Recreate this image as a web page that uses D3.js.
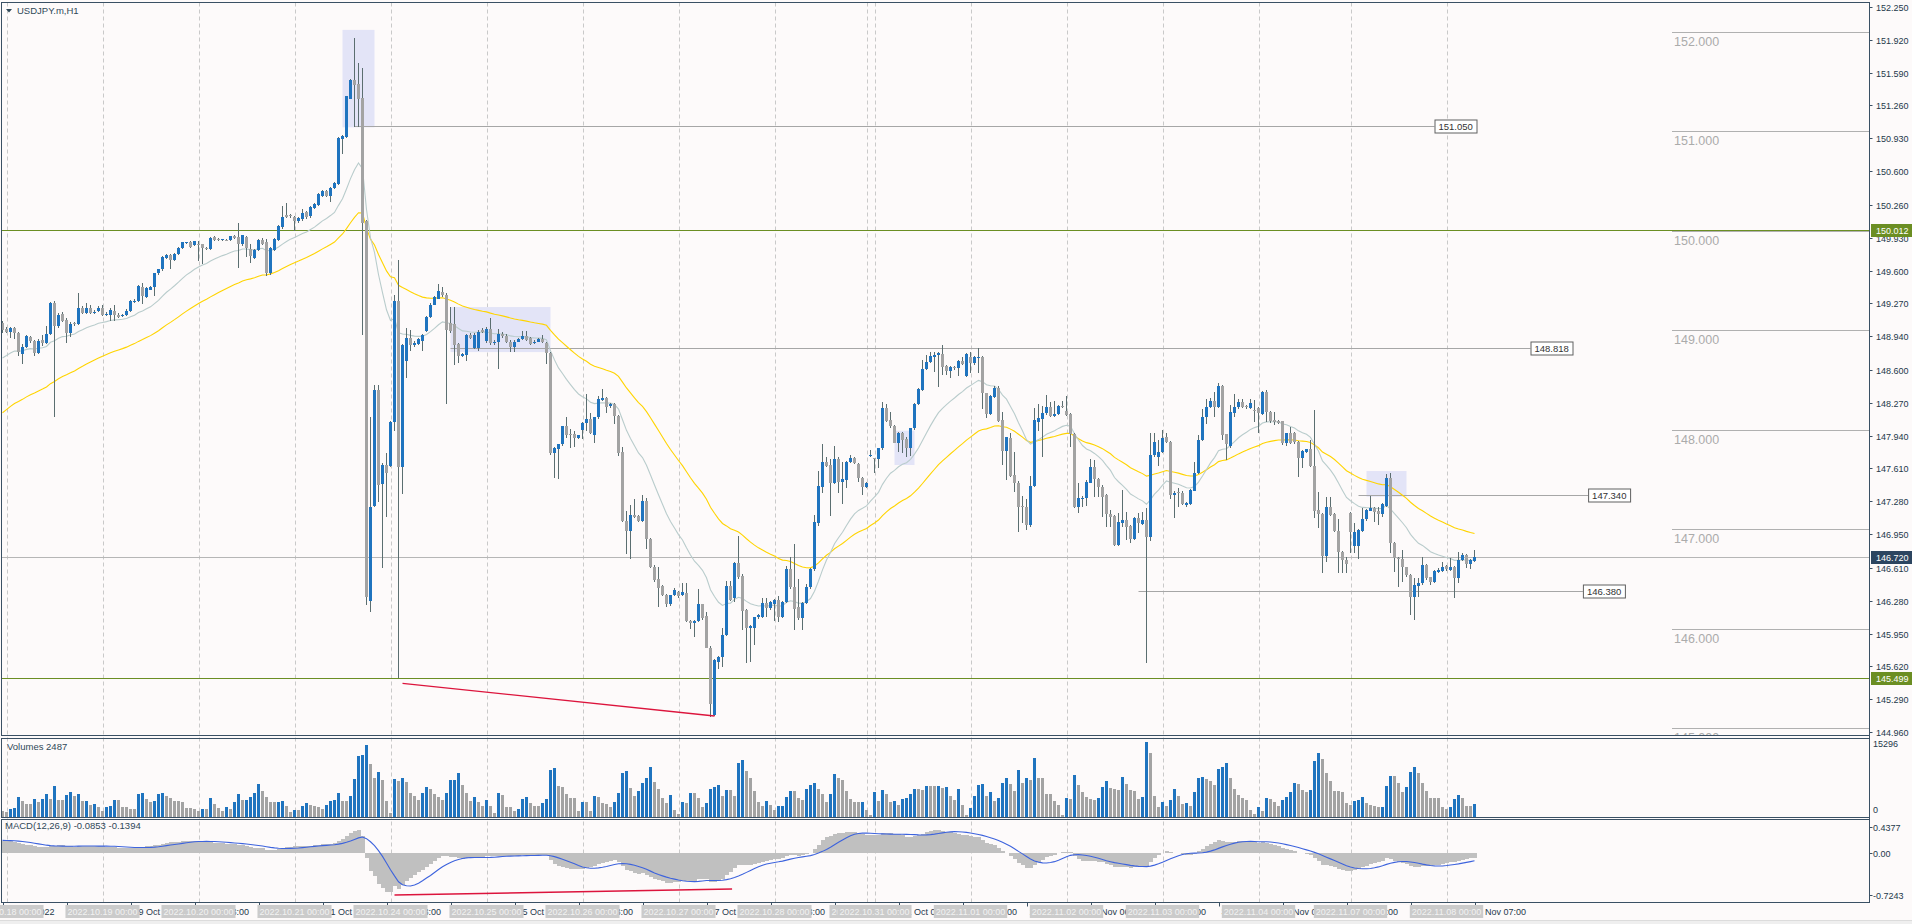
<!DOCTYPE html>
<html><head><meta charset="utf-8">
<script src="https://cdn.jsdelivr.net/npm/d3@7"></script>
<style>
html,body{margin:0;padding:0;background:#fdfafa;overflow:hidden}
svg{display:block}
text{font-family:"Liberation Sans",Arial,sans-serif}
</style></head><body>
<svg id="c" width="1912" height="924"></svg>
<script>
// ---------------- DATA ----------------
const chartTitle = "USDJPY.m,H1";
const volumeTitle = "Volumes 2487";
const macdTitle = "MACD(12,26,9) -0.0853 -0.1394";

const opens = [
149.074,149.011,148.978,149.024,148.970,148.762,148.833,148.928,148.895,148.775,
148.899,148.874,148.958,149.273,149.040,149.165,149.107,148.970,149.070,149.066,
149.228,149.170,149.220,149.170,149.190,149.228,149.157,149.149,149.198,149.157,
149.140,149.149,149.190,149.280,149.290,149.430,149.330,149.406,149.430,149.572,
149.614,149.726,149.759,149.710,149.768,149.830,149.880,149.888,149.860,149.870,
149.863,149.830,149.820,149.940,149.920,149.905,149.910,149.905,149.946,149.940,
149.863,149.940,149.818,149.731,149.808,149.905,149.885,149.573,149.808,149.910,
150.033,150.161,150.161,150.141,150.095,150.115,150.186,150.146,150.227,150.258,
150.350,150.396,150.350,150.432,150.473,150.923,150.943,151.327,151.516,151.480,
151.337,150.100,146.281,147.237,148.402,147.457,147.646,147.630,148.080,149.292,
147.620,148.694,148.924,148.847,148.862,148.888,148.990,149.128,149.256,149.317,
149.384,149.358,149.077,149.061,148.857,148.745,148.755,148.949,148.821,148.821,
149.000,148.888,149.016,148.868,148.886,148.963,148.945,148.886,148.833,148.886,
148.910,148.938,148.921,148.868,148.886,148.910,148.868,148.770,147.763,147.809,
147.851,148.033,147.956,147.956,147.921,147.998,148.068,148.103,147.949,148.124,
148.300,148.314,148.237,148.261,148.138,147.773,147.079,146.981,147.142,147.131,
147.086,147.282,146.896,146.623,146.500,146.430,146.342,146.244,146.335,146.370,
146.342,146.356,146.079,146.061,146.079,146.244,146.124,145.809,145.132,145.668,
145.710,145.938,146.430,146.307,146.658,146.529,146.187,146.003,146.003,146.113,
146.120,146.254,146.204,146.247,146.288,146.120,146.271,146.596,146.415,146.214,
146.103,146.261,146.415,146.596,147.065,147.427,147.672,147.645,147.467,147.702,
147.477,147.494,147.672,147.712,147.655,147.511,147.420,147.740,147.715,147.702,
147.812,148.215,148.097,148.040,147.869,147.970,147.903,147.812,148.014,148.258,
148.399,148.607,148.684,148.734,148.751,148.761,148.640,148.593,148.634,148.617,
148.691,148.540,148.734,148.674,148.730,148.727,148.366,148.158,148.332,148.416,
148.097,147.789,147.913,147.544,147.467,147.233,147.226,147.042,147.434,148.081,
148.107,148.164,148.225,148.141,148.158,148.238,148.191,148.158,147.957,147.219,
147.305,147.310,147.467,147.621,147.501,147.420,147.343,147.152,147.132,146.841,
147.065,147.092,147.031,146.898,147.109,147.052,147.092,146.924,147.745,147.722,
147.779,147.923,147.880,147.343,147.377,147.367,147.243,147.253,147.387,147.561,
147.896,148.124,148.225,148.292,148.225,148.439,147.957,147.835,148.170,148.224,
148.281,148.237,148.221,148.197,148.214,148.157,148.382,148.180,148.097,148.090,
148.087,147.862,147.969,147.969,147.879,147.711,147.778,147.802,147.634,147.192,
147.151,146.729,147.225,147.151,146.984,146.773,146.689,147.165,146.830,146.830,
146.984,147.098,147.185,147.208,147.185,147.151,147.232,147.510,146.857,146.712,
146.696,146.615,146.538,146.314,146.431,146.454,146.639,146.515,146.471,146.572,
146.582,146.629,146.588,146.622,146.505,146.689,146.739,146.645,146.679];

const highs = [
149.095,149.032,149.032,149.032,148.982,148.866,148.949,148.941,148.903,148.910,
148.949,149.040,149.285,149.290,149.170,149.180,149.120,149.080,149.080,149.377,
149.240,149.273,149.250,149.200,149.240,149.250,149.180,149.220,149.253,149.170,
149.160,149.210,149.300,149.310,149.450,149.477,149.430,149.440,149.580,149.620,
149.750,149.770,149.770,149.780,149.840,149.890,149.890,149.900,149.900,149.900,
149.870,149.835,149.935,149.950,149.930,149.920,149.920,149.950,149.960,150.083,
149.960,149.950,149.869,149.820,149.920,149.931,149.921,149.840,149.930,150.060,
150.253,150.279,150.170,150.150,150.135,150.217,150.200,150.253,150.280,150.380,
150.410,150.410,150.440,150.490,150.943,150.960,151.360,151.530,151.940,151.684,
151.633,150.110,148.131,148.450,148.448,147.660,147.763,148.090,149.358,149.706,
148.860,149.026,149.000,148.890,148.920,148.960,149.140,149.270,149.340,149.460,
149.435,149.370,149.230,149.230,148.870,148.770,148.960,148.970,148.970,149.000,
149.020,149.030,149.120,148.900,149.016,148.980,148.960,148.900,148.900,148.920,
148.991,148.991,148.930,148.900,148.920,148.956,148.880,148.780,147.830,147.860,
148.040,148.131,148.009,147.990,147.950,148.080,148.359,148.166,148.130,148.335,
148.405,148.330,148.270,148.270,148.150,147.823,147.184,147.247,147.307,147.140,
147.342,147.317,146.910,146.640,146.616,146.440,146.350,146.340,146.405,146.380,
146.454,146.454,146.090,146.090,146.395,146.250,146.166,145.820,145.690,145.720,
146.009,146.482,146.482,146.670,146.928,146.550,146.200,146.040,146.120,146.150,
146.304,146.304,146.280,146.300,146.328,146.280,146.629,146.723,146.851,146.495,
146.270,146.448,146.610,147.142,147.588,147.856,147.729,147.702,147.839,147.722,
147.678,147.680,147.745,147.722,147.660,147.520,147.470,147.796,147.720,147.820,
148.282,148.258,148.181,148.050,147.980,147.980,147.930,148.020,148.270,148.420,
148.701,148.751,148.784,148.784,148.784,148.852,148.650,148.640,148.640,148.700,
148.734,148.770,148.784,148.740,148.818,148.740,148.370,148.350,148.439,148.439,
148.181,147.930,147.970,147.779,147.480,147.333,147.300,147.534,148.215,148.258,
148.238,148.349,148.282,148.292,148.248,148.288,148.339,148.170,147.970,147.461,
147.330,147.490,147.702,147.695,147.510,147.444,147.350,147.192,147.140,147.159,
147.394,147.176,147.040,147.125,147.159,147.176,147.209,147.963,147.963,147.896,
147.997,147.963,147.890,147.380,147.410,147.380,147.270,147.400,147.678,147.947,
148.205,148.305,148.315,148.382,148.466,148.450,147.960,148.248,148.358,148.304,
148.304,148.250,148.304,148.298,148.231,148.392,148.398,148.190,148.180,148.100,
148.090,147.970,148.030,147.980,147.890,147.800,147.810,147.896,148.197,147.376,
147.160,147.326,147.326,147.160,147.098,146.780,146.722,147.175,147.058,147.000,
147.208,147.200,147.332,147.220,147.225,147.260,147.554,147.560,146.870,146.720,
146.790,146.620,146.550,146.505,146.505,146.722,146.650,146.520,146.588,146.605,
146.672,146.639,146.706,146.630,146.773,146.756,146.750,146.700,146.790];

const lows = [
148.970,148.970,148.920,148.908,148.741,148.658,148.825,148.870,148.741,148.760,
148.845,148.866,148.950,148.127,149.020,149.080,148.874,148.928,149.040,149.053,
149.160,149.160,149.160,149.160,149.180,149.140,149.140,149.095,149.095,149.120,
149.130,149.140,149.180,149.270,149.280,149.260,149.320,149.400,149.344,149.560,
149.600,149.720,149.614,149.700,149.760,149.820,149.870,149.830,149.850,149.700,
149.664,149.810,149.810,149.900,149.900,149.900,149.900,149.900,149.920,149.622,
149.850,149.739,149.675,149.720,149.800,149.860,149.547,149.560,149.800,149.900,
150.020,150.125,150.130,149.997,150.080,150.100,150.120,150.130,150.220,150.250,
150.340,150.340,150.289,150.420,150.460,150.774,150.930,151.320,151.045,151.045,
148.949,146.240,146.163,147.220,147.272,146.608,147.119,147.620,147.988,145.498,
147.354,148.515,148.796,148.830,148.850,148.786,148.980,149.120,149.250,149.310,
149.333,148.259,148.975,148.653,148.668,148.730,148.694,148.910,148.810,148.796,
148.970,148.870,148.850,148.850,148.612,148.920,148.870,148.780,148.780,148.880,
148.900,148.890,148.850,148.860,148.880,148.870,148.658,147.745,147.517,147.507,
147.840,147.921,147.816,147.823,147.910,147.903,147.984,147.956,147.868,148.110,
148.290,148.166,148.220,148.061,147.738,147.070,146.745,146.700,147.110,147.070,
147.070,146.798,146.610,146.465,146.219,146.324,146.219,146.230,146.324,146.307,
146.330,146.068,145.991,145.914,146.070,146.090,145.800,145.114,145.121,145.598,
145.612,145.930,146.280,146.272,146.500,145.986,145.657,145.667,145.835,146.100,
146.110,146.120,146.190,146.080,146.070,146.110,146.260,146.400,145.986,146.090,
145.986,146.250,146.400,146.580,147.031,147.367,147.620,147.132,147.450,147.360,
147.253,147.410,147.660,147.650,147.477,147.343,147.410,147.730,147.561,147.611,
147.800,148.080,148.014,147.863,147.779,147.762,147.729,147.735,148.000,148.250,
148.390,148.600,148.670,148.583,148.426,148.550,148.550,148.516,148.600,148.540,
148.650,148.530,148.573,148.650,148.573,148.205,148.114,148.150,148.320,148.080,
147.645,147.494,147.520,147.377,146.975,147.065,146.991,147.018,147.420,147.990,
147.722,148.150,148.130,148.130,148.150,148.220,148.140,147.829,147.210,147.159,
147.219,147.233,147.460,147.327,147.327,147.125,147.025,147.025,146.831,146.830,
147.025,146.891,146.857,146.890,146.958,147.040,145.657,146.884,147.730,147.635,
147.770,147.870,147.300,147.109,147.226,147.243,147.226,147.243,147.380,147.550,
147.890,148.057,148.220,148.131,148.220,147.896,147.695,147.820,148.130,148.210,
148.220,148.210,148.210,148.080,147.969,148.150,148.080,148.063,148.046,148.060,
147.845,147.835,147.860,147.860,147.527,147.611,147.770,147.620,147.108,147.007,
146.555,146.672,147.130,146.974,146.555,146.555,146.555,146.756,146.756,146.696,
146.970,147.081,147.180,147.074,147.041,147.125,147.220,146.763,146.572,146.421,
146.471,146.521,146.136,146.086,146.314,146.438,146.488,146.438,146.460,146.560,
146.570,146.580,146.580,146.310,146.461,146.680,146.605,146.595,146.669];

const closes = [
148.999,148.982,149.024,148.970,148.783,148.833,148.937,148.887,148.775,148.895,
148.874,148.958,149.273,149.040,149.157,149.095,148.970,149.066,149.058,149.228,
149.170,149.228,149.170,149.186,149.228,149.157,149.165,149.207,149.157,149.130,
149.150,149.198,149.290,149.290,149.440,149.345,149.420,149.430,149.572,149.614,
149.739,149.759,149.710,149.768,149.830,149.884,149.886,149.840,149.896,149.860,
149.830,149.820,149.925,149.905,149.905,149.913,149.905,149.946,149.925,149.863,
149.955,149.822,149.742,149.803,149.905,149.869,149.578,149.829,149.921,150.049,
150.141,150.141,150.146,150.100,150.125,150.176,150.135,150.238,150.268,150.371,
150.396,150.350,150.432,150.483,150.933,150.953,151.352,151.516,151.465,151.327,
150.074,146.316,147.221,148.402,147.441,147.646,147.569,148.080,149.292,147.620,
148.847,148.924,148.847,148.873,148.908,148.949,149.128,149.256,149.333,149.399,
149.358,149.000,148.990,148.847,148.745,148.760,148.949,148.924,148.949,148.985,
148.985,149.010,148.868,148.886,148.963,148.938,148.886,148.833,148.886,148.910,
148.945,148.903,148.861,148.886,148.910,148.886,148.770,147.763,147.816,147.851,
148.033,147.949,147.950,147.921,147.945,148.072,148.103,147.963,148.124,148.307,
148.314,148.230,148.261,148.138,147.763,147.079,146.981,147.142,147.124,147.086,
147.282,146.896,146.623,146.489,146.412,146.342,146.247,146.335,146.384,146.324,
146.370,146.079,146.051,146.079,146.244,146.103,145.809,145.237,145.682,145.710,
145.938,146.430,146.289,146.658,146.517,146.180,146.003,146.026,146.113,146.137,
146.254,146.204,146.264,146.288,146.120,146.271,146.596,146.415,146.194,146.103,
146.261,146.422,146.596,147.075,147.434,147.672,147.638,147.467,147.702,147.477,
147.501,147.672,147.712,147.662,147.511,147.420,147.461,147.745,147.710,147.812,
148.215,148.091,148.040,147.869,147.970,147.896,147.812,148.014,148.258,148.406,
148.607,148.684,148.741,148.751,148.768,148.634,148.593,148.627,148.617,148.691,
148.660,148.761,148.674,148.727,148.734,148.366,148.158,148.339,148.416,148.091,
147.789,147.923,147.534,147.461,147.219,147.219,147.042,147.434,148.097,148.114,
148.164,148.225,148.138,148.158,148.238,148.225,148.148,147.957,147.219,147.310,
147.313,147.477,147.621,147.501,147.420,147.327,147.152,147.125,146.841,147.075,
147.092,147.025,146.898,147.109,147.065,147.092,146.924,147.745,147.880,147.779,
147.913,147.880,147.343,147.367,147.360,147.253,147.260,147.394,147.561,147.896,
148.124,148.225,148.292,148.225,148.439,147.947,147.856,148.180,148.231,148.281,
148.231,148.224,148.271,148.191,148.164,148.382,148.180,148.090,148.080,148.070,
147.862,147.963,147.869,147.879,147.711,147.788,147.802,147.634,147.185,147.151,
146.729,147.225,147.141,146.984,146.773,146.689,146.649,146.974,146.974,146.991,
147.098,147.192,147.208,147.175,147.151,147.252,147.510,146.857,146.706,146.696,
146.615,146.538,146.314,146.438,146.461,146.639,146.505,146.471,146.582,146.588,
146.615,146.595,146.615,146.505,146.689,146.739,146.645,146.689,146.720];

const volumes = [
1141,878,1580,1756,4039,3161,2634,2458,3512,2897,
3512,4653,3600,6146,3336,3300,4390,5092,4214,4653,
3161,3250,2283,2458,2019,1141,2019,2100,3336,3300,
2019,2000,1580,1560,4653,4700,3512,2897,3161,4653,
4700,4214,3775,3161,3150,2897,1756,1750,1580,1054,
1580,1500,3775,2634,1756,1141,2019,1580,2897,4653,
3336,3400,3996,4860,6696,5292,3996,2916,2900,2950,
3240,2052,972,1296,1250,2052,2700,2376,2052,1836,
1620,2376,3240,3456,4860,3132,3100,4212,7560,12312,
12636,14600,10692,7776,9072,7452,3132,756,7560,7236,
7776,7020,4752,4212,3456,4860,5940,5616,4536,3996,
3456,4860,7452,7500,8856,6372,4752,3240,3996,2916,
2052,3456,2075,815,4891,4298,1927,1900,1037,1556,
3557,3927,2816,2075,2050,2816,3557,9559,9855,6224,
6002,4520,3779,3750,1186,3038,2890,1186,4150,4001,
2816,2519,1927,3038,4891,8966,9337,5780,4150,5261,
6743,7855,10078,7114,5632,3779,2668,4298,1334,593,
3038,2816,4891,4742,3779,1927,2668,5632,6002,6521,
4150,5483,5400,4150,10819,11505,9310,7753,5275,2938,
2230,3151,2443,1239,2089,2230,4071,5275,5270,3717,
3363,5629,6337,6903,5629,4567,2938,4567,8602,7894,
7399,5275,3505,2938,2930,3009,1381,319,5062,3151,
5416,4496,2938,3151,2443,3505,3859,4567,5629,5620,
5416,6195,6124,6120,6195,5841,5983,4213,3292,5629,
2443,319,1735,4213,6337,6600,4213,5062,3151,3717,
6903,7753,6691,5275,9523,6903,7753,7540,12001,7753,
7750,4567,4560,3151,2443,319,3717,3505,8461,6337,
4921,4000,3646,3363,3859,5983,7186,5770,5629,5487,
7965,6691,5416,5204,3505,4000,15296,12850,4213,1947,
2938,2089,3363,5629,4213,2584,2797,2230,4921,7894,
7965,7611,7186,6337,9735,10018,10939,7753,5629,4354,
3859,3292,1381,531,1947,1168,3859,3646,3009,2230,
3363,4000,4991,6903,6620,5416,5062,5416,11293,12992,
11788,8815,7328,5133,5130,4991,2797,2443,3151,3363,
4071,2797,2443,2089,1947,1950,6195,8177,8170,6903,
4921,5983,9027,10018,8956,6903,5133,3717,3710,3700,
1876,1522,1876,3505,4354,3717,2089,2080,2487];

const priceTicks = [152.250,151.920,151.590,151.260,150.930,150.600,150.260,149.930,149.600,149.270,
  148.940,148.600,148.270,147.940,147.610,147.280,146.950,146.610,146.280,145.950,145.620,145.290,144.960];
const volumeTicks = [15296, 0];
const macdTicks = [0.4377, 0.00, -0.7243];
const macdTickText = ["0.4377", "0.00", "-0.7243"];

const dayStarts = [
  {bar:1,date:"2022.10.18"},{bar:25,date:"2022.10.19"},{bar:49,date:"2022.10.20"},{bar:73,date:"2022.10.21"},
  {bar:97,date:"2022.10.24"},{bar:121,date:"2022.10.25"},{bar:145,date:"2022.10.26"},{bar:169,date:"2022.10.27"},
  {bar:193,date:"2022.10.28"},{bar:216,date:"2022.10.31"},{bar:218,date:"2022.10.31"},{bar:242,date:"2022.11.01"},
  {bar:266,date:"2022.11.02"},{bar:290,date:"2022.11.03"},{bar:314,date:"2022.11.04"},{bar:337,date:"2022.11.07"},
  {bar:361,date:"2022.11.08"}];

const roundLevels = [152,151,150,149,148,147,146,145];
const hLevels = [ {price:151.050, from:88, to:358}, {price:148.818, from:112, to:382},
                  {price:147.340, from:339, to:396.4}, {price:146.380, from:284, to:395.1} ];
const greenLevels = [150.012, 145.499];
const currentPrice = 146.720;
const boxes = [ {from:85,to:93,top:152.02,bottom:151.04}, {from:112,to:137,top:149.233,bottom:148.78},
                {from:223,to:228,top:147.99,bottom:147.645}, {from:341,to:351,top:147.584,bottom:147.326} ];
const trendMain = {b0:100, v0:145.449, b1:178, v1:145.121};
const trendMacd = {b0:98, v0:-0.725, b1:182.4, v1:-0.622};

// indicator starting states at the first bar
const emaFastStart = 148.72, emaSlowStart = 148.17;   // EMA20 (grey), EMA50 (yellow)
const macdEma12Start = 148.86, macdEma26Start = 148.66, macdSignalStart = 0.21;

// ---------------- DRAWING ----------------
const W = 1912, H = 924, N = closes.length;
const axisX = 1869.5;
const P = {mainTop:2.5, mainBot:735.5, volTop:738.5, volBot:817.5, macdTop:819.5, macdBot:902.5};
const borderCol = "#3a5064", textCol = "#24384a";

const x = d3.scaleLinear().domain([0, 1]).range([2.5, 6.5]);
const y = d3.scaleLinear().domain([144.96, 152.25]).range([732, 7]);
const yv = d3.scaleLinear().domain([0, 15296]).range([816.5, 741.5]);
const ym = d3.scaleLinear().domain([-0.7243, 0.4377]).range([895, 827]);

function ema(src, period, start){ const k = 2/(period+1); let e = start; return src.map((v,i)=>{ if(i>0) e = e + k*(v-e); return e; }); }
const maFast = ema(closes, 20, emaFastStart);
const maSlow = ema(closes, 50, emaSlowStart);
const e12 = ema(closes, 12, macdEma12Start), e26 = ema(closes, 26, macdEma26Start);
const macd = e12.map((v,i)=> v - e26[i]);
const signal = macd.map((v,i)=>{ let s=0; for(let j=i-8;j<=i;j++) s += (j<0? macdSignalStart : macd[j]); return s/9; });

const svg = d3.select("#c");
svg.append("rect").attr("width",W).attr("height",H).attr("fill","#fdfafa");
const defs = svg.append("defs");
function clip(id, y0, y1){ defs.append("clipPath").attr("id",id).append("rect").attr("x",2).attr("y",y0).attr("width",axisX-2).attr("height",y1-y0); }
clip("cMain", P.mainTop+0.5, P.mainBot-0.5); clip("cVol", P.volTop+0.5, P.volBot-0.5); clip("cMacd", P.macdTop+0.5, P.macdBot-0.5);

// day separator lines (dashed) across all panels
const gDays = svg.append("g");
dayStarts.forEach(d=>{
  const xx = Math.round(x(d.bar))+0.5;
  gDays.append("line").attr("x1",xx).attr("x2",xx).attr("y1",P.mainTop).attr("y2",P.macdBot)
    .attr("stroke","#c9c9c9").attr("stroke-dasharray","4,3");
});

// ---- main panel
const gM = svg.append("g").attr("clip-path","url(#cMain)");
boxes.forEach(b=>{
  gM.append("rect").attr("x",x(b.from)).attr("width",x(b.to)-x(b.from))
    .attr("y",y(b.top)).attr("height",y(b.bottom)-y(b.top)).attr("fill","#e3e4f7");
});
roundLevels.forEach(l=>{
  const yy = Math.round(y(l))+0.5;
  gM.append("line").attr("x1",1672).attr("x2",axisX).attr("y1",yy).attr("y2",yy).attr("stroke","#b0b0b0");
  gM.append("text").attr("x",1674).attr("y",yy+13).attr("font-size",12.5).attr("fill","#ababab").text(l.toFixed(3));
});
hLevels.forEach(h=>{
  const yy = Math.round(y(h.price))+0.5;
  gM.append("line").attr("x1",x(h.from)).attr("x2",x(h.to)).attr("y1",yy).attr("y2",yy).attr("stroke","#a6a6a6");
});
const curY = Math.round(y(currentPrice))+0.5;
gM.append("line").attr("x1",2).attr("x2",axisX).attr("y1",curY).attr("y2",curY).attr("stroke","#b6b6b6");
greenLevels.forEach(g=>{
  const yy = Math.round(y(g))+0.5;
  gM.append("line").attr("x1",2).attr("x2",axisX).attr("y1",yy).attr("y2",yy).attr("stroke","#6b8e23");
});
const line = d3.line().x((d,i)=>x(i)).y(d=>y(d));
gM.append("path").attr("d",line(maSlow)).attr("fill","none").attr("stroke","#ffd400").attr("stroke-width",1.1);
gM.append("path").attr("d",line(maFast)).attr("fill","none").attr("stroke","#b9cccc").attr("stroke-width",1.1);

const gC = gM.append("g").attr("shape-rendering","crispEdges");
for(let i=0;i<N;i++){
  const o=opens[i], c=closes[i], h=Math.max(highs[i],o,c), l=Math.min(lows[i],o,c);
  const cx = x(i);
  gC.append("line").attr("x1",cx).attr("x2",cx).attr("y1",y(h)).attr("y2",y(l)).attr("stroke","#5b6e70");
  const top = y(Math.max(o,c)), bot = y(Math.min(o,c));
  gC.append("rect").attr("x",cx-1.5).attr("width",3).attr("y",top).attr("height",Math.max(1,bot-top))
    .attr("fill", c>=o ? "#1f74bf" : "#a3a3a3");
}
gM.append("line").attr("x1",x(trendMain.b0)).attr("y1",y(trendMain.v0)).attr("x2",x(trendMain.b1)).attr("y2",y(trendMain.v1))
  .attr("stroke","#dc143c").attr("stroke-width",1.4);

// level label boxes
hLevels.forEach(h=>{
  const yy = Math.round(y(h.price))+0.5, bx = x(h.to);
  svg.append("rect").attr("x",bx+0.5).attr("y",yy-6.5).attr("width",42).attr("height",13).attr("fill","#ffffff").attr("stroke","#606060");
  svg.append("text").attr("x",bx+4).attr("y",yy+3.5).attr("font-size",9.5).attr("fill","#333").text(h.price.toFixed(3));
});

// title
svg.append("path").attr("d","M6,9 L12,9 L9,12.5 Z").attr("fill","#2f4858");
svg.append("text").attr("x",17).attr("y",14).attr("font-size",9.5).attr("fill","#2f4858").text(chartTitle);

// ---- volume panel
const gV = svg.append("g").attr("clip-path","url(#cVol)").attr("shape-rendering","crispEdges");
volumes.forEach((v,i)=>{
  const up = i>0 && v>volumes[i-1];
  gV.append("rect").attr("x",x(i)-1.5).attr("width",3).attr("y",yv(v)).attr("height",yv(0)-yv(v))
    .attr("fill", up ? "#1f74bf" : "#a3a3a3");
});
svg.append("text").attr("x",7).attr("y",750).attr("font-size",9.5).attr("fill","#2f4858").text(volumeTitle);

// ---- MACD panel
const gD = svg.append("g").attr("clip-path","url(#cMacd)");
const gH = gD.append("g").attr("shape-rendering","crispEdges");
macd.forEach((v,i)=>{
  const y0 = ym(0), y1 = ym(v);
  gH.append("rect").attr("x",x(i)-2).attr("width",4).attr("y",Math.min(y0,y1)).attr("height",Math.abs(y1-y0)).attr("fill","#c0c0c0");
});
gD.append("path").attr("d",d3.line().x((d,i)=>x(i)).y(d=>ym(d))(signal)).attr("fill","none").attr("stroke","#3d63dd").attr("stroke-width",1.1);
gD.append("line").attr("x1",x(trendMacd.b0)).attr("y1",ym(trendMacd.v0)).attr("x2",x(trendMacd.b1)).attr("y2",ym(trendMacd.v1))
  .attr("stroke","#dc143c").attr("stroke-width",1.4);
svg.append("text").attr("x",5).attr("y",829).attr("font-size",9.5).attr("fill","#2f4858").text(macdTitle);

// ---- panel borders
[[P.mainTop,P.mainBot],[P.volTop,P.volBot],[P.macdTop,P.macdBot]].forEach(([a,b])=>{
  svg.append("rect").attr("x",1.5).attr("y",a).attr("width",axisX-1.5).attr("height",b-a)
    .attr("fill","none").attr("stroke",borderCol);
});

// ---- right axis
const gA = svg.append("g").attr("font-size",9).attr("fill",textCol);
priceTicks.forEach(p=>{
  const yy = Math.round(y(p))+0.5;
  gA.append("line").attr("x1",axisX).attr("x2",axisX+3).attr("y1",yy).attr("y2",yy).attr("stroke",borderCol);
  gA.append("text").attr("x",1876).attr("y",yy+3.2).text(p.toFixed(3));
});
function axisBadge(v, fill){
  const yy = Math.round(y(v))+0.5;
  svg.append("rect").attr("x",1871).attr("y",yy-6.5).attr("width",41).attr("height",13).attr("fill",fill);
  svg.append("text").attr("x",1876).attr("y",yy+3.5).attr("font-size",9).attr("fill","#ffffff").text(v.toFixed(3));
}
greenLevels.forEach(g=>axisBadge(g,"#6b8e23"));
axisBadge(currentPrice,"#2c4560");
volumeTicks.forEach(v=>{
  const yy = v===0 ? 810 : 744;
  gA.append("text").attr("x",1873).attr("y",yy+3.2).text(String(v));
});
macdTicks.forEach((v,i)=>{
  const yy = Math.round(ym(v))+0.5;
  gA.append("line").attr("x1",axisX).attr("x2",axisX+3).attr("y1",yy).attr("y2",yy).attr("stroke",borderCol);
  gA.append("text").attr("x",1873).attr("y",yy+3.2).text(macdTickText[i]);
});

// ---- time axis
const months = {"10":"Oct","11":"Nov"};
function barLabel(i){
  if(i===0) return "17 Oct 2022";
  const ds = dayStarts.filter(d=>d.bar<=i).pop();
  const parts = ds.date.split(".");
  return `${+parts[2]} ${months[parts[1]]} ${String(i-ds.bar).padStart(2,"0")}:00`;
}
const gT = svg.append("g").attr("font-size",9).attr("fill",textCol);
for(let i=0;i<N;i+=16){
  const xx = Math.round(x(i))+0.5;
  gT.append("line").attr("x1",xx).attr("x2",xx).attr("y1",P.macdBot).attr("y2",P.macdBot+4).attr("stroke",borderCol);
  gT.append("text").attr("x",xx+2).attr("y",915).text(barLabel(i));
}
dayStarts.forEach(d=>{
  const xx = x(d.bar);
  const t = svg.append("text").attr("font-size",9).attr("fill","#f2f2f2").attr("y",915).text(d.date+" 00:00");
  const w = t.node().getComputedTextLength();
  t.attr("x", xx - w/2);
  svg.insert("rect", () => t.node()).attr("x",xx-w/2-2).attr("y",905).attr("width",w+4).attr("height",13).attr("fill","#cbcbcb");
});
svg.append("line").attr("x1",0).attr("x2",W).attr("y1",920.5).attr("y2",920.5).attr("stroke","#dcdcdc");
svg.append("rect").attr("x",0).attr("y",921).attr("width",W).attr("height",3).attr("fill","#efefef");
// right axis line
svg.append("line").attr("x1",axisX).attr("x2",axisX).attr("y1",P.mainTop).attr("y2",P.macdBot).attr("stroke",borderCol);
</script>
</body></html>
